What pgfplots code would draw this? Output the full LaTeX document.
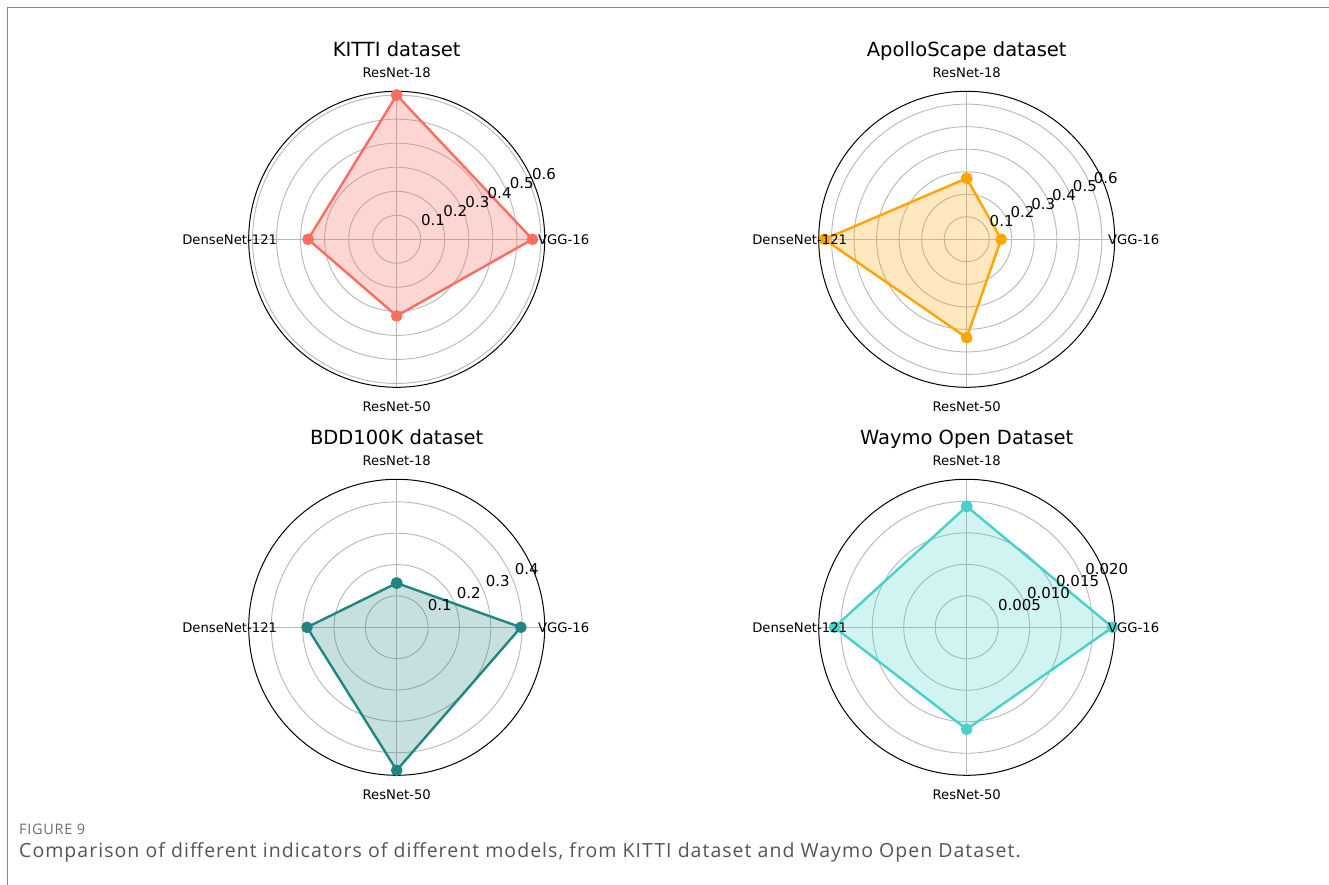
\documentclass[border=0pt]{standalone}
\usepackage{fontspec}
\setmainfont{DejaVu Sans}
\newfontfamily\capfont[LetterSpace=5]{Open Sans}
\newfontfamily\captextfont[LetterSpace=5.3]{Open Sans}
\usepackage{pgfplots}
\usepackage{pgfplotstable}
\usepgfplotslibrary{polar}
\pgfplotsset{compat=1.18}

\definecolor{kitti}{RGB}{250,110,98}
\definecolor{apollo}{RGB}{255,165,0}
\definecolor{bdd}{RGB}{32,134,130}
\definecolor{waymo}{RGB}{72,209,204}
\definecolor{gridgray}{RGB}{184,184,184}
\definecolor{framegray}{RGB}{135,135,135}
\definecolor{capgray}{RGB}{85,85,85}
\definecolor{figgray}{RGB}{110,110,110}

% angle (deg) / score; order: ResNet-18, VGG-16, ResNet-50, DenseNet-121, back to ResNet-18
\pgfplotstableread{
angle value
90  0.600
0   0.565
270 0.319
180 0.369
90  0.600
}\kittidata
\pgfplotstableread{
angle value
90  0.271
0   0.153
270 0.437
180 0.632
90  0.271
}\apollodata
\pgfplotstableread{
angle value
90  0.141
0   0.396
270 0.456
180 0.286
90  0.141
}\bdddata
\pgfplotstableread{
angle value
90  0.0192
0   0.02315
270 0.0162
180 0.0210
90  0.0192
}\waymodata

\pgfplotsset{
  radar/.style={
    width=296pt, height=296pt, scale only axis, anchor=center,
    ymin=0, xtick={0,90,180,270}, xticklabels={}, yticklabels={},
    scaled y ticks=false,
    major tick length=0pt,
    grid=major, major grid style={gridgray, line width=0.9pt},
    x axis line style={black, line width=1pt},
    y axis line style={draw=none},
    clip=false,
  },
}
\tikzset{
  rlab/.style={anchor=south west, inner sep=0pt, xshift=2pt, yshift=4pt,
    font=\fontsize{15}{15}\selectfont},
  catlab/.style={anchor=center, inner sep=0pt, font=\fontsize{13.2}{13.2}\selectfont},
  ttl/.style={anchor=base, inner sep=0pt, font=\fontsize{19.5}{19.5}\selectfont},
}
\newcommand\catlabels{%
  \node[catlab] at (0,167pt) {ResNet-18};
  \node[catlab] at (167pt,0) {VGG-16};
  \node[catlab] at (0,-167pt) {ResNet-50};
  \node[catlab] at (-167pt,0) {DenseNet-121};
}

\begin{document}
\begin{tikzpicture}[x=1pt,y=1pt]
\useasboundingbox (0,0) rectangle (1329,885);
\fill[white] (0,0) rectangle (1329,885);
\draw[framegray, line width=1.3pt] (7.7,0) -- (7.7,877.3) -- (1329,877.3);

% KITTI
\begin{polaraxis}[radar, at={(396.7pt,645.7pt)}, ymax=0.616, ytick={0.1,0.2,0.3,0.4,0.5,0.6}]
\addplot[draw=none, fill=kitti, fill opacity=0.28, forget plot] table {\kittidata};
\addplot[kitti, line width=2.4pt, line join=round, mark=*, mark size=4.6pt] table {\kittidata};
\node[rlab] at (axis cs:22.5,0.1) {0.1};
\node[rlab] at (axis cs:22.5,0.2) {0.2};
\node[rlab] at (axis cs:22.5,0.3) {0.3};
\node[rlab] at (axis cs:22.5,0.4) {0.4};
\node[rlab] at (axis cs:22.5,0.5) {0.5};
\node[rlab] at (axis cs:22.5,0.6) {0.6};
\end{polaraxis}
\begin{scope}[shift={(396.7,645.7)}]
\catlabels
\node[ttl] at (0,182.3) {KITTI dataset};
\end{scope}

% ApolloScape
\begin{polaraxis}[radar, at={(966.7pt,645.7pt)}, ymax=0.657, ytick={0.1,0.2,0.3,0.4,0.5,0.6}]
\addplot[draw=none, fill=apollo, fill opacity=0.25, forget plot] table {\apollodata};
\addplot[apollo, line width=2.4pt, line join=round, mark=*, mark size=4.6pt] table {\apollodata};
\node[rlab] at (axis cs:22.5,0.1) {0.1};
\node[rlab] at (axis cs:22.5,0.2) {0.2};
\node[rlab] at (axis cs:22.5,0.3) {0.3};
\node[rlab] at (axis cs:22.5,0.4) {0.4};
\node[rlab] at (axis cs:22.5,0.5) {0.5};
\node[rlab] at (axis cs:22.5,0.6) {0.6};
\end{polaraxis}
\begin{scope}[shift={(966.7,645.7)}]
\catlabels
\node[ttl] at (0,182.3) {ApolloScape dataset};
\end{scope}

% BDD100K
\begin{polaraxis}[radar, at={(396.7pt,257.7pt)}, ymax=0.472, ytick={0.1,0.2,0.3,0.4}]
\addplot[draw=none, fill=bdd, fill opacity=0.25, forget plot] table {\bdddata};
\addplot[bdd, line width=2.4pt, line join=round, mark=*, mark size=4.6pt] table {\bdddata};
\node[rlab] at (axis cs:22.5,0.1) {0.1};
\node[rlab] at (axis cs:22.5,0.2) {0.2};
\node[rlab] at (axis cs:22.5,0.3) {0.3};
\node[rlab] at (axis cs:22.5,0.4) {0.4};
\end{polaraxis}
\begin{scope}[shift={(396.7,257.7)}]
\catlabels
\node[ttl] at (0,182.3) {BDD100K dataset};
\end{scope}

% Waymo Open Dataset
\begin{polaraxis}[radar, at={(966.7pt,257.7pt)}, ymax=0.0235, ytick={0.005,0.010,0.015,0.020}]
\addplot[draw=none, fill=waymo, fill opacity=0.25, forget plot] table {\waymodata};
\addplot[waymo, line width=2.4pt, line join=round, mark=*, mark size=4.6pt] table {\waymodata};
\node[rlab] at (axis cs:22.5,0.005) {0.005};
\node[rlab] at (axis cs:22.5,0.010) {0.010};
\node[rlab] at (axis cs:22.5,0.015) {0.015};
\node[rlab] at (axis cs:22.5,0.020) {0.020};
\end{polaraxis}
\begin{scope}[shift={(966.7,257.7)}]
\catlabels
\node[ttl] at (0,182.3) {Waymo Open Dataset};
\end{scope}

% caption
\node[anchor=base west, inner sep=0pt, text=figgray, font=\capfont\fontsize{14.5}{14.5}\selectfont] at (19,50.5) {FIGURE 9};
\node[anchor=base west, inner sep=0pt, text=capgray, font=\captextfont\fontsize{19.5}{19.5}\selectfont] at (19,27.4) {Comparison of different indicators of different models, from KITTI dataset and Waymo Open Dataset.};
\end{tikzpicture}
\end{document}
